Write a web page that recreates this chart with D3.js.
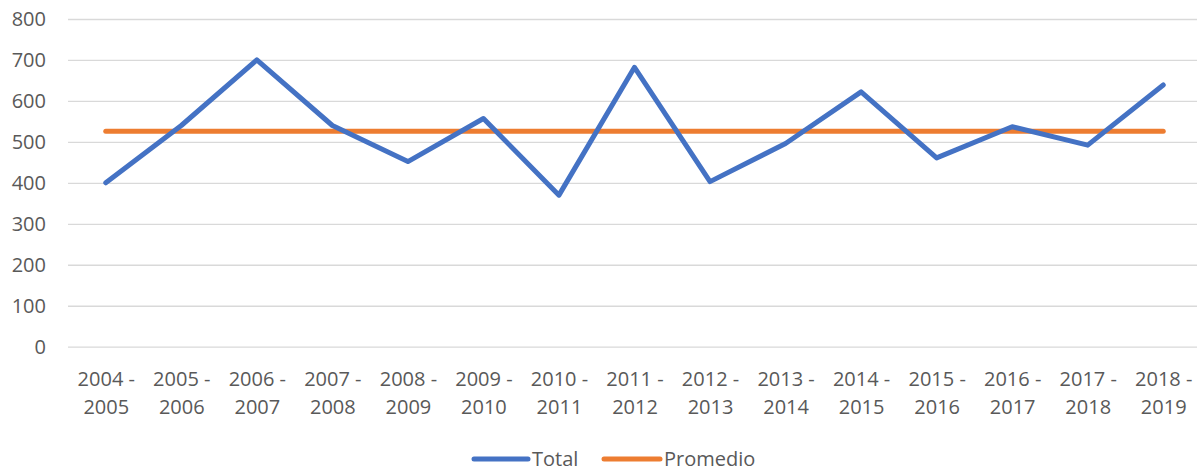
<!doctype html>
<html lang="es">
<head>
    <meta http-equiv="content-type" content="text/html; charset=utf-8" />
    <title>Total y promedio</title>
    <style>
        body { margin: 0; background: #fff; }
        #chart { display: block; font-family: "Open Sans", "Liberation Sans", sans-serif; }
    </style>
</head>
<body>
    <svg id="chart"></svg>

    <script src="https://cdn.jsdelivr.net/npm/d3@7"></script>
    <script>
        // datos
        const periods = ["2004 - 2005", "2005 - 2006", "2006 - 2007", "2007 - 2008", "2008 - 2009",
            "2009 - 2010", "2010 - 2011", "2011 - 2012", "2012 - 2013", "2013 - 2014",
            "2014 - 2015", "2015 - 2016", "2016 - 2017", "2017 - 2018", "2018 - 2019"];
        const total = [400, 540, 700, 540, 452, 557, 370, 682, 403, 496, 622, 461, 537, 492, 639];
        const promedio = [526, 526, 526, 526, 526, 526, 526, 526, 526, 526, 526, 526, 526, 526, 526];
        const yTicks = [0, 100, 200, 300, 400, 500, 600, 700, 800];
        const seriesNames = ["Total", "Promedio"];

        const width = 1197, height = 471;
        const plotLeft = 68, plotRight = 1201, plotTop = 19, plotBottom = 346.7;
        const textColor = "#595959";
        const fontSize = 20;

        const svg = d3.select("#chart")
            .attr("width", width)
            .attr("height", height)
            .attr("viewBox", [0, 0, width, height]);

        const x = d3.scalePoint().domain(periods).range([plotLeft, plotRight]).padding(0.5);
        const y = d3.scaleLinear().domain([0, 800]).range([plotBottom, plotTop]);
        const color = d3.scaleOrdinal(seriesNames, ["#4472C4", "#ED7D31"]);

        // gridlines + y labels
        const yAxis = svg.append("g")
            .attr("transform", `translate(${plotLeft},0)`)
            .call(d3.axisLeft(y).tickValues(yTicks).tickSize(-(plotRight - plotLeft)).tickPadding(22));
        yAxis.select(".domain").remove();
        yAxis.selectAll(".tick line").attr("stroke", "#d9d9d9").attr("stroke-width", 1.3);
        yAxis.selectAll(".tick text")
            .attr("fill", textColor)
            .attr("font-size", fontSize)
            .attr("font-family", "Open Sans, Liberation Sans, sans-serif");

        // x labels, two lines each
        const xAxis = svg.append("g")
            .attr("transform", `translate(0,${plotBottom})`)
            .call(d3.axisBottom(x).tickSize(0).tickFormat(""));
        xAxis.select(".domain").remove();
        xAxis.selectAll(".tick").append("text")
            .attr("fill", textColor)
            .attr("font-size", fontSize)
            .attr("font-family", "Open Sans, Liberation Sans, sans-serif")
            .attr("text-anchor", "middle")
            .selectAll("tspan")
            .data(d => { const p = d.split(" - "); return [p[0] + " -", p[1]]; })
            .join("tspan")
            .attr("x", 0)
            .attr("y", (d, i) => 39 + i * 28)
            .text(d => d);

        const line = d3.line()
            .x((d, i) => x(periods[i]))
            .y(d => y(d));

        const series = [
            { name: "Promedio", values: promedio },
            { name: "Total", values: total }
        ];

        svg.append("g")
            .attr("fill", "none")
            .attr("stroke-width", 5)
            .attr("stroke-linecap", "round")
            .attr("stroke-linejoin", "round")
            .selectAll("path")
            .data(series)
            .join("path")
            .attr("stroke", d => color(d.name))
            .attr("d", d => line(d.values));

        // legend
        const legendItems = [
            { name: "Total", x: 474, w: 54 },
            { name: "Promedio", x: 604, w: 56 }
        ];
        const legend = svg.append("g")
            .selectAll("g")
            .data(legendItems)
            .join("g")
            .attr("transform", d => `translate(${d.x},459)`);
        legend.append("line")
            .attr("x1", 0).attr("x2", d => d.w)
            .attr("stroke", d => color(d.name))
            .attr("stroke-width", 5)
            .attr("stroke-linecap", "round");
        legend.append("text")
            .attr("x", d => d.w + 4)
            .attr("y", 7)
            .attr("fill", textColor)
            .attr("font-size", fontSize)
            .text(d => d.name);
    </script>
</body>
</html>
